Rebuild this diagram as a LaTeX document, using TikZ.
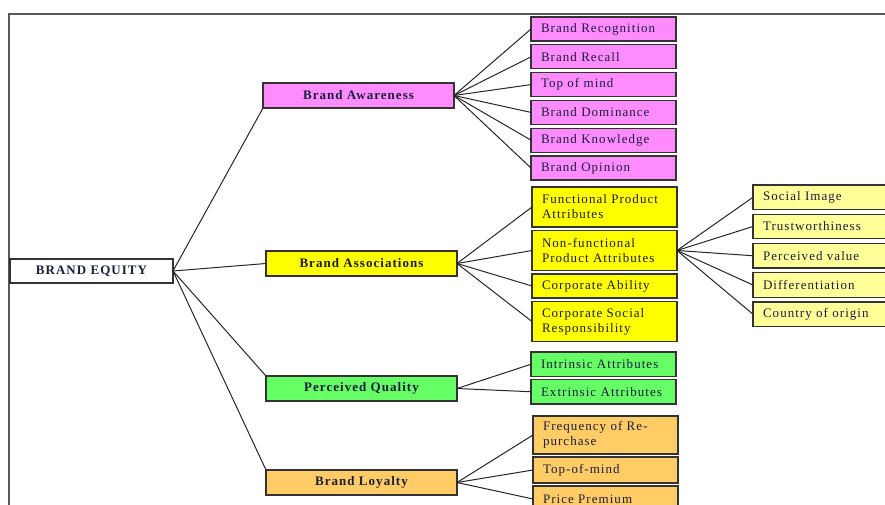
\documentclass[tikz,border=0pt]{standalone}
\usepackage{fontspec}
\usepackage{xcolor}
\newfontfamily\boxfont{Liberation Serif}[LetterSpace=8]
\usetikzlibrary{positioning}
\definecolor{inkblue}{HTML}{1C1C3C}
\definecolor{awarepink}{HTML}{FF8CFF}
\definecolor{assocyellow}{HTML}{FFFF00}
\definecolor{nfyellow}{HTML}{FFFF99}
\definecolor{qualgreen}{HTML}{66FF66}
\definecolor{loyalorange}{HTML}{FFCC66}

\begin{document}
\begin{tikzpicture}
		[x=1pt,y=-1pt,
		box/.style={rectangle,draw=black!80,line width=1.3pt,outer sep=0pt,inner sep=0pt,text=inkblue,
			font=\boxfont\fontsize{13}{15}\selectfont},
		mainbox/.style={box,minimum width=191pt,minimum height=25pt,anchor=north west,
			font=\boxfont\bfseries\fontsize{13}{15}\selectfont},
		leaf/.style={box,minimum width=145pt,minimum height=24pt,text width=125pt,align=left},
		twoline/.style={leaf,minimum height=40pt},
		link/.style={draw=black!85,line width=1pt}]
		\useasboundingbox (0,0) rectangle (885,505);
		\clip (0,0) rectangle (885,505);
		\draw [black!65, line width=1.5pt] (9,505) -- (9,14) -- (885,14);

		\node [box,minimum width=163pt,minimum height=24pt,anchor=north west,
			font=\boxfont\bfseries\fontsize{13}{15}\selectfont] (eq) at (10,259) {BRAND EQUITY};

		\node [mainbox,fill=awarepink] (aw) at (263,83) {Brand Awareness};
		\node [mainbox,fill=assocyellow] (as) at (266,251) {Brand Associations};
		\node [mainbox,fill=qualgreen] (pq) at (266,376) {Perceived Quality};
		\node [mainbox,fill=loyalorange] (bl) at (266,470) {Brand Loyalty};

		\node [leaf,fill=awarepink,anchor=north west] (aw1) at (531,17) {Brand Recognition};
		\node [leaf,fill=awarepink] (aw2) [below=3.8pt of aw1] {Brand Recall};
		\node [leaf,fill=awarepink] (aw3) [below=3.8pt of aw2] {Top of mind};
		\node [leaf,fill=awarepink] (aw4) [below=3.8pt of aw3] {Brand Dominance};
		\node [leaf,fill=awarepink] (aw5) [below=3.8pt of aw4] {Brand Knowledge};
		\node [leaf,fill=awarepink] (aw6) [below=3.8pt of aw5] {Brand Opinion};

		\node [twoline,fill=assocyellow,anchor=north west] (as1) at (532,187) {Functional Product\\Attributes};
		\node [twoline,fill=assocyellow] (as2) [below=3.5pt of as1] {Non-functional\\Product Attributes};
		\node [leaf,fill=assocyellow] (as3) [below=3.5pt of as2] {Corporate Ability};
		\node [twoline,fill=assocyellow] (as4) [below=3.5pt of as3] {Corporate Social\\Responsibility};

		\node [leaf,fill=nfyellow,minimum width=150pt,minimum height=24.5pt,text width=130pt,anchor=north west] (nf1) at (753,185) {Social Image};
		\node [leaf,fill=nfyellow,minimum width=150pt,minimum height=24.5pt,text width=130pt] (nf2) [below=4.75pt of nf1] {Trustworthiness};
		\node [leaf,fill=nfyellow,minimum width=150pt,minimum height=24.5pt,text width=130pt] (nf3) [below=4.75pt of nf2] {Perceived value};
		\node [leaf,fill=nfyellow,minimum width=150pt,minimum height=24.5pt,text width=130pt] (nf4) [below=4.75pt of nf3] {Differentiation};
		\node [leaf,fill=nfyellow,minimum width=150pt,minimum height=24.5pt,text width=130pt] (nf5) [below=4.75pt of nf4] {Country of origin};

		\node [leaf,fill=qualgreen,minimum height=24.5pt,anchor=north west] (pq1) at (531,352) {Intrinsic Attributes};
		\node [leaf,fill=qualgreen,minimum height=24.5pt] (pq2) [below=3pt of pq1] {Extrinsic Attributes};

		\node [twoline,fill=loyalorange,minimum height=38pt,anchor=north west] (bl1) at (533,416) {Frequency of Re-\\purchase};
		\node [leaf,fill=loyalorange,minimum height=26pt] (bl2) [below=3pt of bl1] {Top-of-mind};
		\node [leaf,fill=loyalorange,minimum height=26pt] (bl3) [below=3pt of bl2] {Price Premium};

		\draw [link] (eq.east) -- (aw.south west);
		\draw [link] (eq.east) -- (as.west);
		\draw [link] (eq.east) -- (pq.north west);
		\draw [link] (eq.east) -- (bl.north west);
		\foreach \i in {1,...,6}
			\draw [link] (aw.east) -- (aw\i.west);
		\foreach \i in {1,...,4}
			\draw [link] (as.east) -- (as\i.west);
		\foreach \i in {1,...,5}
			\draw [link] (as2.east) -- (nf\i.west);
		\foreach \i in {1,2}
			\draw [link] (pq.east) -- (pq\i.west);
		\foreach \i in {1,...,3}
			\draw [link] (bl.east) -- (bl\i.west);

	\end{tikzpicture}
\end{document}
